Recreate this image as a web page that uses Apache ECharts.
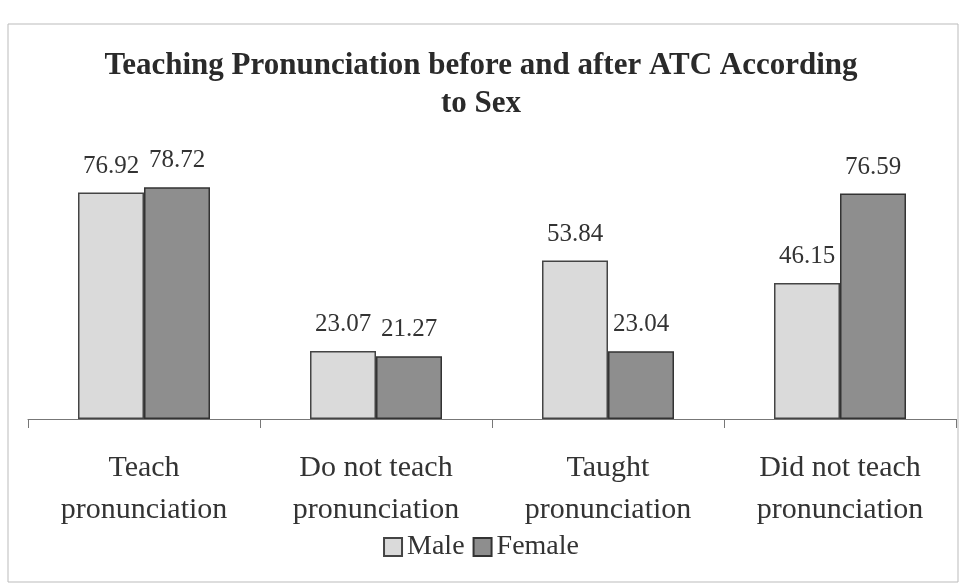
<!DOCTYPE html>
<html>
<head>
<meta charset="utf-8">
<script src="https://cdn.jsdelivr.net/npm/echarts@6/dist/echarts.min.js"></script>
<style>
  * { margin: 0; padding: 0; }
  body { background: #fff; }
  #chart { width: 962px; height: 586px; }
</style>
</head>
<body>
<div id="chart"></div>
<script>
// data
const categories = ["Teach\npronunciation", "Do not teach\npronunciation", "Taught\npronunciation", "Did not teach\npronunciation"];
const maleValues = [76.92, 23.07, 53.84, 46.15];
const femaleValues = [78.72, 21.27, 23.04, 76.59];
const seriesNames = ["Male", "Female"];

const serif = "'Liberation Serif', 'DejaVu Serif', serif";
const chart = echarts.init(document.getElementById("chart"));

const option = {
  animation: false,
  backgroundColor: "#fff",
  title: {
    text: "Teaching Pronunciation before and after ATC According\nto Sex",
    left: "center",
    top: 42,
    textStyle: { fontFamily: serif, fontSize: 31, fontWeight: "bold", color: "#2a2a2a", lineHeight: 38 }
  },
  legend: {
    data: seriesNames,
    bottom: 20,
    left: "center",
    itemWidth: 18,
    itemHeight: 18,
    itemGap: 8,
    icon: "rect",
    textStyle: { fontFamily: serif, fontSize: 28, color: "#333" }
  },
  grid: { left: 28, right: 6, top: 154, bottom: 167 },
  xAxis: {
    type: "category",
    data: categories,
    axisLine: { lineStyle: { color: "#777", width: 1 } },
    axisTick: { show: true, length: 9, lineStyle: { color: "#777" } },
    axisLabel: { fontFamily: serif, fontSize: 30, color: "#333", lineHeight: 42, margin: 28, interval: 0 }
  },
  yAxis: {
    type: "value",
    min: 0,
    max: 90,
    show: false,
    splitLine: { show: false }
  },
  graphic: [{
    type: "rect",
    shape: { x: 8, y: 24, width: 950, height: 558 },
    style: { fill: "none", stroke: "#bbb", lineWidth: 1 },
    silent: true
  }],
  series: [
    {
      name: seriesNames[0],
      type: "bar",
      data: maleValues,
      barWidth: 66,
      barGap: "0%",
      itemStyle: { color: "#dadada", borderColor: "#444", borderWidth: 1.5 },
      label: { show: true, position: "top", distance: 14, fontFamily: serif, fontSize: 25, color: "#333" }
    },
    {
      name: seriesNames[1],
      type: "bar",
      data: femaleValues,
      barWidth: 66,
      barGap: "0%",
      itemStyle: { color: "#8e8e8e", borderColor: "#333", borderWidth: 1.5 },
      label: { show: true, position: "top", distance: 14, fontFamily: serif, fontSize: 25, color: "#333" }
    }
  ]
};

chart.setOption(option);
</script>
</body>
</html>
